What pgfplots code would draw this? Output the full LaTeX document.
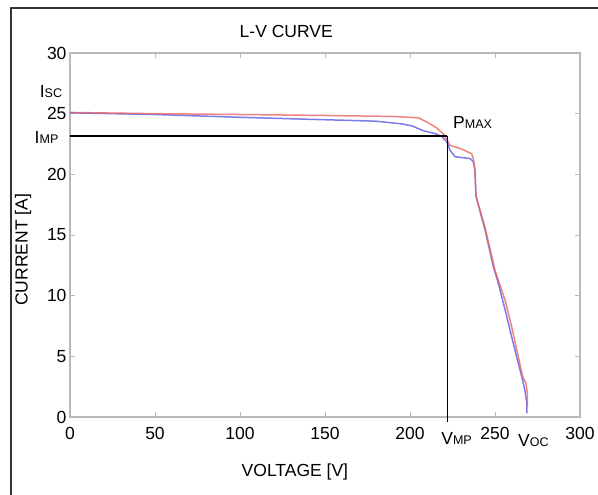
\documentclass[border=0pt]{standalone}
\usepackage{pgfplots}
\pgfplotsset{compat=1.18}
\usepackage{fontspec}
\setmainfont{Liberation Sans}
\definecolor{cred}{RGB}{232,100,100}
\definecolor{cblue}{RGB}{100,100,232}
\definecolor{axgray}{RGB}{185,185,185}
\newcommand{\bigf}{\fontsize{17.5}{17.5}\selectfont}
\newcommand{\smf}{\fontsize{12.5}{12.5}\selectfont}
\begin{document}
\begin{tikzpicture}
\begin{axis}[
  scale only axis, width=510pt, height=364pt,
  xmin=0, xmax=300, ymin=0, ymax=30,
  xtick={0,50,...,300}, ytick={0,5,...,30},
  tick align=inside, major tick length=5pt,
  axis line style={axgray, line width=1.2pt},
  tick style={axgray, line width=0.8pt},
  ticklabel style={font=\bigf, text=black},
  /pgf/number format/assume math mode=true,
  xticklabel style={yshift=-7pt},
  clip=false,
  xlabel={VOLTAGE [V]}, ylabel={CURRENT [A]},
  label style={font=\bigf},
  xlabel style={at={(axis description cs:0.441,-0.151)}, anchor=center},
  ylabel style={at={(axis description cs:-0.092,0.459)}, anchor=center},
]
\coordinate (O) at (rel axis cs:0,0);
\addplot[cblue, line width=1.5pt, opacity=0.85] coordinates {
(0,25.07) (50,24.93) (100,24.7) (150,24.5) (180,24.38) (195,24.16) (201,24.0)
(207.7,23.6) (215,23.35) (219,23.1) (222,22.6) (223.5,22.0) (226.5,21.45)
(235.3,21.3) (237.2,21.05) (238.2,20.4) (238.8,18.2) (244,15.5) (249,12.4)
(252,11.0) (256.9,8.3) (260.5,6.2) (264.7,3.9) (266.5,2.9) (267.6,2.2)
(268.8,1.1) (268.8,0.3)
};
\addplot[cred, line width=1.5pt, opacity=0.8] coordinates {
(0,25.1) (50,25.0) (100,24.93) (150,24.85) (190,24.77) (205,24.66) (210,24.3)
(215,23.9) (220,23.3) (223.5,22.4) (230,22.1) (236.3,21.7) (237.2,21.3)
(238.2,20.4) (238.8,18.2) (244,15.7) (250,12.1) (256,9.6) (259.8,7.45)
(263.7,4.97) (266.3,3.3) (268.2,2.8) (269,1.95) (269,0.8)
};
\addplot[black, line width=2pt] coordinates {(0,23.2) (222,23.2)};
\addplot[black, line width=1.1pt] coordinates {(222,23.2) (222,-0.4)};
\node[font=\bigf] at (axis cs:-11.2,26.8) {I{\smf SC}};
\node[font=\bigf] at (axis cs:-13.8,23.0) {I{\smf MP}};
\node[font=\bigf] at (axis cs:236.8,24.3) {P{\smf MAX}};
\node[font=\bigf] at (axis cs:227.4,-1.73) {V{\smf MP}};
\node[font=\bigf] at (axis cs:272.6,-1.9) {V{\smf OC}};
\node[font=\bigf] at (axis description cs:0.424,1.058) {L-V CURVE};
\end{axis}
\draw[black!80, line width=1.5pt] ([shift={(-59pt,-78pt)}]O) -- ([shift={(-59pt,409pt)}]O) -- ([shift={(528pt,409pt)}]O);
\pgfresetboundingbox
\path[use as bounding box] ([shift={(-70pt,-78pt)}]O) rectangle ([shift={(528pt,417pt)}]O);
\end{tikzpicture}
\end{document}
